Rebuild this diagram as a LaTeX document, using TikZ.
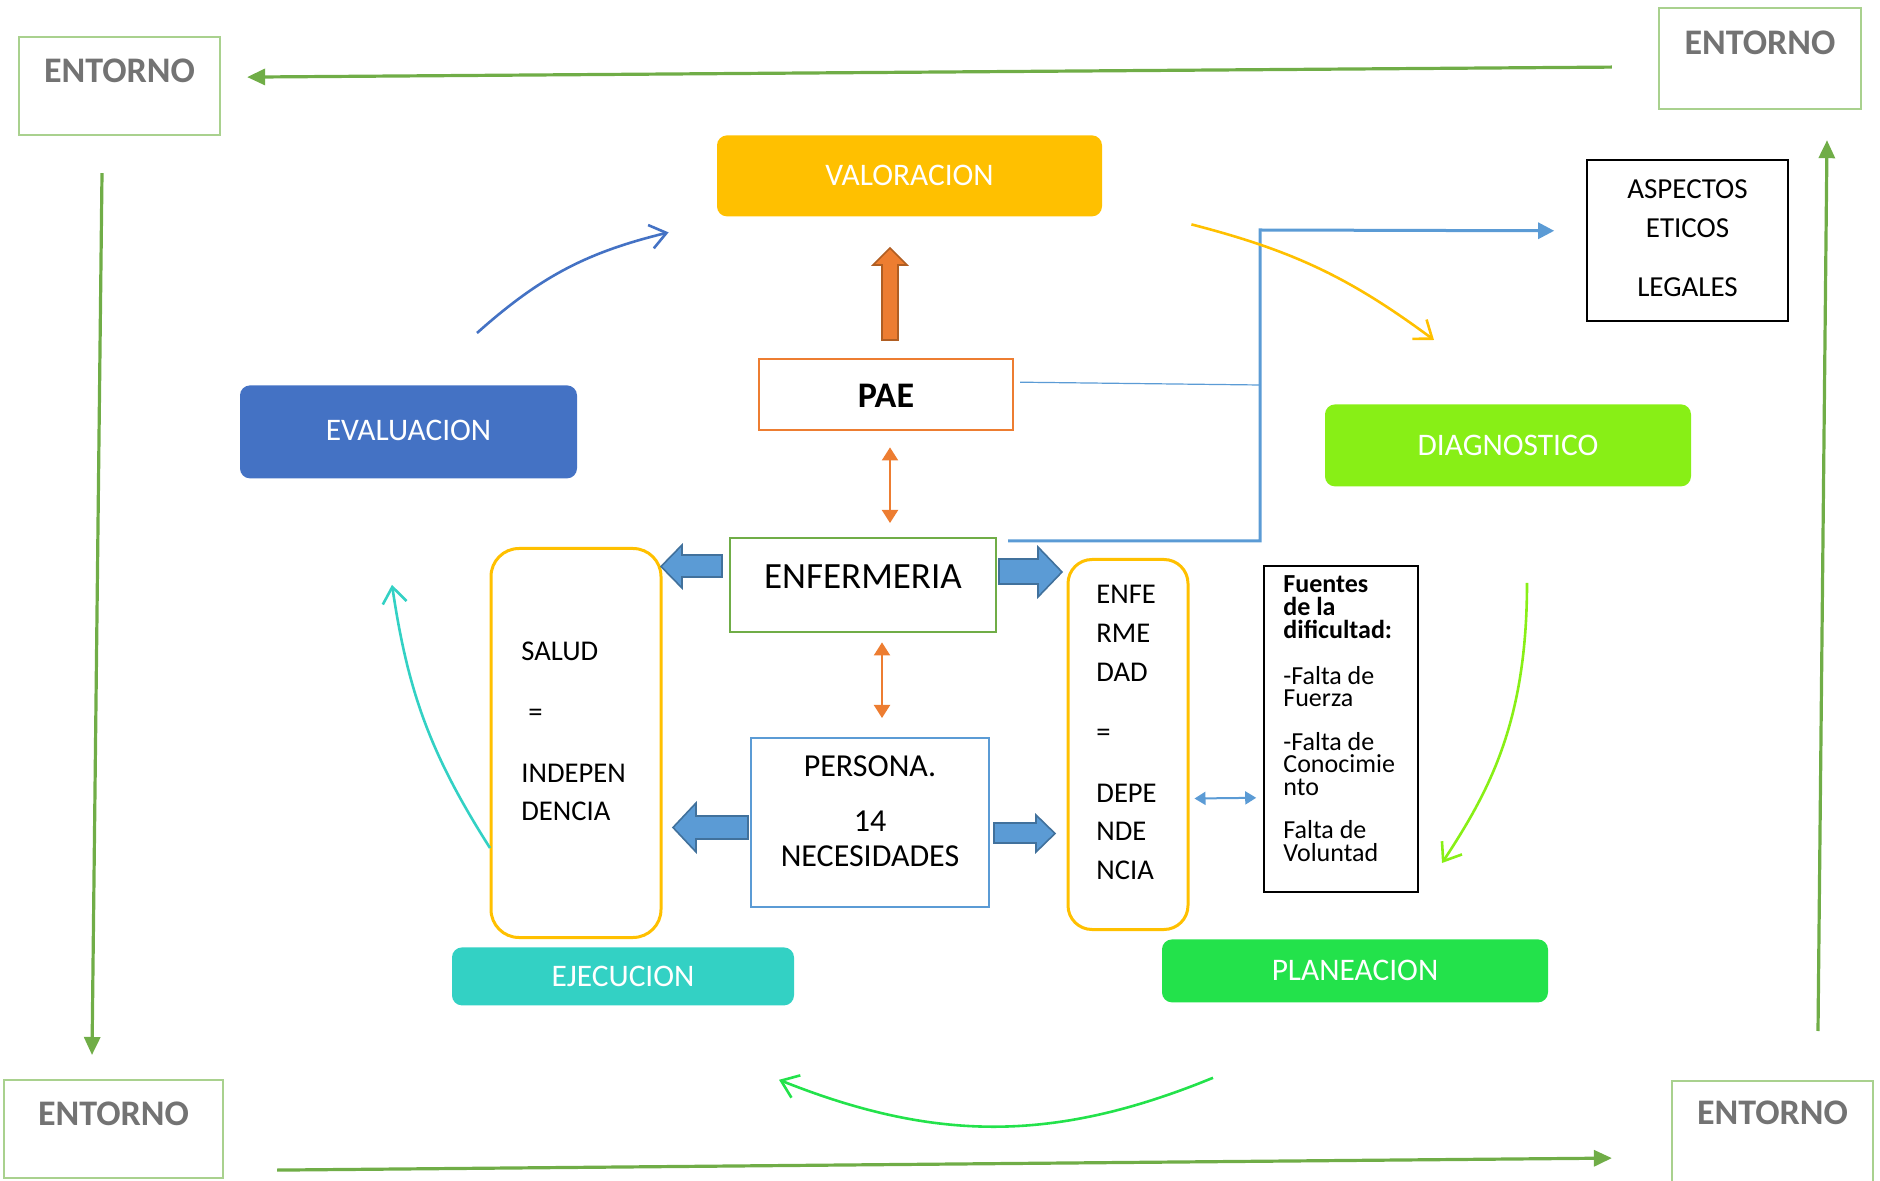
\documentclass[tikz,border=0pt]{standalone}
\usepackage{fontspec}
\setmainfont{Carlito}
\usetikzlibrary{arrows.meta}
\definecolor{entgreen}{HTML}{A9D18E}
\definecolor{arrgreen}{HTML}{70AD47}
\definecolor{enttext}{HTML}{737373}
\definecolor{valoc}{HTML}{FFC000}
\definecolor{evalc}{HTML}{4472C4}
\definecolor{diagc}{HTML}{88EF16}
\definecolor{planc}{HTML}{23E24B}
\definecolor{ejecc}{HTML}{33D1C4}
\definecolor{orangec}{HTML}{ED7D31}
\definecolor{orangedark}{HTML}{B05E22}
\definecolor{bluec}{HTML}{5B9BD5}
\definecolor{bluedark}{HTML}{41719C}
\begin{document}
\begin{tikzpicture}[x=0.5pt,y=-0.5pt,
  tbox/.style={anchor=north, inner xsep=0pt, inner ysep=0pt, minimum height=0pt},
  entbox/.style={tbox, draw=entgreen, line width=1.1pt, font=\fontsize{18}{21}\selectfont\bfseries, text=enttext},
  phase/.style={tbox, fill=#1, rounded corners=5pt, text=white, font=\fontsize{15.7}{19}\selectfont},
  ltext/.style={anchor=base west, inner sep=0pt},
  garrow/.style={draw=arrgreen, line width=1.6pt, -{Triangle[length=9pt,width=8pt]}},
  oarrow/.style={draw=orangec, line width=1pt, {Triangle[length=6.5pt,width=8pt]}-{Triangle[length=6.5pt,width=8pt]}},
  barrow/.style={draw=bluec, line width=1pt, {Triangle[length=5.5pt,width=6.5pt]}-{Triangle[length=5.5pt,width=6.5pt]}},
  curvearrow/.style={draw=#1, line width=1.3pt, -{Straight Barb[length=8pt,width=12pt]}},
  blockblue/.style={fill=bluec, draw=bluedark, line width=0.8pt},
  blockorange/.style={fill=orangec, draw=orangedark, line width=0.8pt}
]
\useasboundingbox (0,0) rectangle (1880,1181);
\clip (0,0) rectangle (1880,1181);

% ENTORNO boxes
\node[entbox, minimum width=100.5pt, text height=22.75pt, text depth=26.25pt] (entTL) at (119.5,36) {ENTORNO};
\node[entbox, minimum width=101pt, text height=23.25pt, text depth=27.25pt] (entTR) at (1760,7) {ENTORNO};
\node[entbox, minimum width=109.5pt, text height=22.75pt, text depth=26.25pt] (entBL) at (113.5,1079) {ENTORNO};
\node[entbox, minimum width=100.5pt, text height=21.75pt, text depth=33.25pt] (entBR) at (1772.5,1080) {ENTORNO};

% green frame arrows
\draw[garrow] ([shift={(-46,8.5)}]entTR.west) -- ([shift={(26,-9)}]entTL.east);
\draw[garrow] ([shift={(-17.5,37)}]entTL.south) -- ([shift={(-21.5,-24)}]entBL.north);
\draw[garrow] ([shift={(53,41)}]entBL.east) -- ([shift={(-59,22)}]entBR.west);
\draw[garrow] ([shift={(45.5,-49)}]entBR.north) -- ([shift={(67,30)}]entTR.south);

% phase boxes
\node[phase=valoc, minimum width=192.5pt, text height=25pt, text depth=15.5pt] (valo) at (909.5,135) {VALORACION};
\node[phase=evalc, minimum width=168.5pt, text height=27.75pt, text depth=18.75pt] (eval) at (408.5,385) {EVALUACION};
\node[phase=diagc, minimum width=183pt, text height=25.5pt, text depth=15.5pt] (diag) at (1508,404) {DIAGNOSTICO};
\node[phase=planc, minimum width=193pt, text height=20.5pt, text depth=11pt] (plan) at (1355,939) {PLANEACION};
\node[phase=ejecc, minimum width=171pt, text height=19.5pt, text depth=9.5pt] (ejec) at (623,947) {EJECUCION};

% central boxes
\node[tbox, draw=orangec, line width=1.2pt, fill=white, minimum width=127pt, text height=24pt, text depth=11.5pt, font=\fontsize{18}{21}\selectfont\bfseries] (pae) at (886,358) {PAE};
\node[tbox, draw=arrgreen, line width=1.2pt, minimum width=133pt, text height=25pt, text depth=22pt, font=\fontsize{18.5}{22}\selectfont] (enf) at (863,537) {ENFERMERIA};
\node[tbox, draw=bluec, line width=1.1pt, minimum width=119pt, text height=19pt, text depth=65.5pt, font=\fontsize{16}{17.5}\selectfont] (pers) at (870,737)
  {\begin{tabular}[t]{@{}c@{}}PERSONA.\\[10pt]14\\NECESIDADES\end{tabular}};
\node[tbox, draw=valoc, line width=1.5pt, rounded corners=14pt, minimum width=85pt, minimum height=194.5pt] (salud) at (576,547) {};
\node[ltext, font=\fontsize{14.3}{19.3}\selectfont] (saludT) at (521,661)
  {\begin{tabular}[t]{@{}l@{}}SALUD\\[11pt]\hspace{3.5pt}=\\[11pt]INDEPEN\\DENCIA\end{tabular}};
\node[tbox, draw=valoc, line width=1.5pt, rounded corners=12pt, minimum width=60pt, minimum height=185pt] (enfd) at (1128,558) {};
\node[ltext, font=\fontsize{14.3}{19.3}\selectfont] (enfdT) at (1096,604)
  {\begin{tabular}[t]{@{}l@{}}ENFE\\RME\\DAD\\[11pt]=\\[11pt]DEPE\\NDE\\NCIA\end{tabular}};
\node[tbox, draw=black, line width=0.8pt, minimum width=77pt, minimum height=163pt] (fuen) at (1341,565) {};
\node[ltext, font=\fontsize{13}{11.4}\selectfont] (fuenT) at (1283,593)
  {\begin{tabular}[t]{@{}l@{}}\smash{\textbf{Fuentes}}\\\smash{\textbf{de la}}\\\smash{\textbf{dificultad:}}\\[11.4pt]
   \smash{-Falta de}\\\smash{Fuerza}\\[10.2pt]
   \smash{-Falta de}\\\smash{Conocimie}\\\smash{nto}\\[10.2pt]
   \smash{Falta de}\\\smash{Voluntad}\end{tabular}};
\node[tbox, draw=black, line width=0.8pt, minimum width=100.5pt, text height=19.5pt, text depth=61pt, font=\fontsize{14.5}{19.5}\selectfont] (asp) at (1687.5,159)
  {\begin{tabular}[t]{@{}c@{}}ASPECTOS\\ETICOS\\[10pt]LEGALES\end{tabular}};

% block arrows
\draw[blockorange] (882,340) -- (882,265) -- (873,265) -- (890,248) -- (907,265) -- (898,265) -- (898,340) -- cycle;
\draw[blockblue] (722,555) -- (682,555) -- (682,545) -- (661,566.5) -- (682,588) -- (682,577) -- (722,577) -- cycle;
\draw[blockblue] (999,559) -- (1038,559) -- (1038,547) -- (1062,572) -- (1038,597) -- (1038,584) -- (999,584) -- cycle;
\draw[blockblue] (748,816) -- (696,816) -- (696,803) -- (673,827.5) -- (696,852) -- (696,839) -- (748,839) -- cycle;
\draw[blockblue] (994,823) -- (1036,823) -- (1036,815) -- (1055,833.5) -- (1036,852) -- (1036,843) -- (994,843) -- cycle;

% double arrows
\draw[oarrow] ([shift={(4,16)}]pae.south) -- ([shift={(27,-14)}]enf.north);
\draw[oarrow] ([shift={(19,9)}]enf.south) -- ([shift={(12,-19)}]pers.north);
\draw[barrow] ([shift={(5,54)}]enfd.east) -- ([shift={(-7,69)}]fuen.west);

% blue elbow connector to ASPECTOS
\coordinate (elbtop) at (1260,230);
\coordinate (elbjoin) at (1260,385);
\draw[draw=bluec, line width=1.5pt, -{Triangle[length=8pt,width=8pt]}] ([shift={(11,4)}]enf.north east) -| (elbtop) -- ([shift={(-32,-9.5)}]asp.west);
\draw[draw=bluec, line width=0.6pt] ([shift={(6,-12.5)}]pae.east) -- (elbjoin);

% cycle curves
\draw[curvearrow=evalc] ([shift={(68.5,-52)}]eval.north) to[bend left=14] ([shift={(-48,56.5)}]valo.west);
\draw[curvearrow=valoc] ([shift={(89,48.5)}]valo.east) to[bend left=11] ([shift={(-74,-64)}]diag.north);
\coordinate (c3a) at ([shift={(19,96)}]diag.south);
\coordinate (c3b) at ([shift={(87,-76)}]plan.north);
\draw[curvearrow=diagc] (c3a) .. controls ([shift={(0,138)}]c3a) and ([shift={(48,-73)}]c3b) .. (c3b);
\draw[curvearrow=planc] ([shift={(-142,75)}]plan.south) to[bend left=22] ([shift={(156,74)}]ejec.south);
\draw[curvearrow=ejecc] ([shift={(-133,-99)}]ejec.north) to[bend left=12] ([shift={(-16.5,106)}]eval.south);
\end{tikzpicture}
\end{document}
